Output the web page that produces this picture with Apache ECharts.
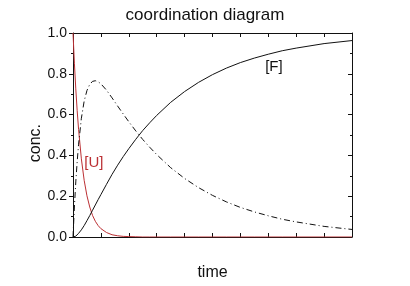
<!DOCTYPE html>
<html>
<head>
    <meta charset="utf-8">
    <title>coordination diagram</title>
    <script src="https://cdn.jsdelivr.net/npm/echarts@6/dist/echarts.min.js"></script>
</head>
<body style="margin:0">
    <div id="box" style="width: 410px;height: 286px;"></div>
    <script>
        // values
        var times = [0, 0.05, 0.1, 0.15, 0.2, 0.3, 0.4, 0.5, 0.6, 0.7, 0.8, 0.9, 1.0, 1.2, 1.4, 1.6, 1.8, 2.0, 2.25, 2.5, 2.75, 3, 3.5, 4, 4.5, 5, 5.5, 6, 6.5, 7, 7.5, 8, 9, 10];
        var concU = [1, 0.852, 0.726, 0.619, 0.527, 0.383, 0.278, 0.202, 0.147, 0.106, 0.077, 0.056, 0.041, 0.022, 0.011, 0.006, 0.003, 0.002, 0.001, 0, 0, 0, 0, 0, 0, 0, 0, 0, 0, 0, 0, 0, 0, 0];
        var concI = [0, 0.147, 0.270, 0.370, 0.455, 0.582, 0.666, 0.718, 0.748, 0.763, 0.766, 0.761, 0.751, 0.720, 0.682, 0.642, 0.603, 0.565, 0.520, 0.478, 0.440, 0.404, 0.340, 0.287, 0.242, 0.204, 0.172, 0.145, 0.123, 0.104, 0.087, 0.074, 0.052, 0.037];
        var concF = [0, 0.001, 0.004, 0.011, 0.018, 0.035, 0.056, 0.080, 0.105, 0.131, 0.157, 0.183, 0.208, 0.258, 0.307, 0.352, 0.394, 0.433, 0.479, 0.522, 0.560, 0.596, 0.660, 0.713, 0.758, 0.796, 0.828, 0.855, 0.877, 0.896, 0.913, 0.926, 0.948, 0.963];

        function pairs(vals) {
            return times.map(function (t, i) { return [t, vals[i]]; });
        }

        var red = '#bb3034';
        var ink = '#111';
        var font = 'Liberation Sans';
        var line = { show: true, onZero: false, lineStyle: { color: ink, width: 1 } };
        var myChart = echarts.init(document.getElementById("box"));
        var option = {
            animation: false,
            title: {
                text: 'coordination diagram',
                left: 'center',
                top: 2,
                textStyle: { fontFamily: font, fontSize: 17, fontWeight: 'normal', color: ink }
            },
            graphic: [{
                type: 'text', left: 28, top: 124, rotation: Math.PI / 2,
                style: { text: 'conc.', font: '16px "Liberation Sans"', fill: ink }
            }],
            grid: { left: 73, right: 58, top: 33, bottom: 48 },
            xAxis: [{
                type: 'value', min: 0, max: 10, interval: 1,
                name: 'time', nameLocation: 'middle', nameGap: 28,
                nameTextStyle: { fontFamily: font, fontSize: 16, color: ink },
                axisLine: line,
                axisTick: { show: true, inside: true, length: 4, lineStyle: { color: ink } },
                axisLabel: { show: false },
                splitLine: { show: false }
            }, {
                type: 'value', min: 0, max: 10, interval: 1, position: 'top',
                axisLine: line,
                axisTick: { show: true, inside: true, length: 4, lineStyle: { color: ink } },
                axisLabel: { show: false },
                splitLine: { show: false }
            }],
            yAxis: [{
                type: 'value', min: 0, max: 1, interval: 0.2,
                axisLine: line,
                axisTick: { show: true, inside: false, length: 4, lineStyle: { color: ink } },
                minorTick: { show: true, splitNumber: 2, length: 2, lineStyle: { color: ink } },
                axisLabel: { fontFamily: font, fontSize: 14, color: ink, margin: 6,
                    formatter: function (v) { return v.toFixed(1); } },
                splitLine: { show: false }
            }, {
                type: 'value', min: 0, max: 1, interval: 0.2, position: 'right',
                axisLine: line,
                axisTick: { show: true, inside: true, length: 4, lineStyle: { color: ink } },
                minorTick: { show: true, splitNumber: 2, length: 2, lineStyle: { color: ink } },
                axisLabel: { show: false },
                splitLine: { show: false }
            }],
            series: [{
                name: 'U', type: 'line', data: pairs(concU),
                showSymbol: false, smooth: false,
                lineStyle: { color: red, width: 1 },
                markPoint: {
                    symbol: 'circle', symbolSize: 1,
                    itemStyle: { color: 'rgba(0,0,0,0)' },
                    label: { show: true, position: 'inside', formatter: '[U]', color: red, fontFamily: font, fontSize: 15 },
                    data: [{ coord: [0.75, 0.365] }]
                }
            }, {
                name: 'I', type: 'line', data: pairs(concI),
                showSymbol: false, smooth: false,
                lineStyle: { color: ink, width: 1, type: [6, 3, 1, 3] }
            }, {
                name: 'F', type: 'line', data: pairs(concF),
                showSymbol: false, smooth: false,
                lineStyle: { color: ink, width: 1 },
                markPoint: {
                    symbol: 'circle', symbolSize: 1,
                    itemStyle: { color: 'rgba(0,0,0,0)' },
                    label: { show: true, position: 'inside', formatter: '[F]', color: ink, fontFamily: font, fontSize: 15 },
                    data: [{ coord: [7.2, 0.834] }]
                }
            }]
        };
        myChart.setOption(option);
    </script>
</body>
</html>
